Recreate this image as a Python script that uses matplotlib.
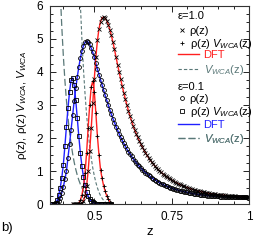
import matplotlib
matplotlib.use('agg')
import matplotlib.pyplot as plt
from matplotlib.lines import Line2D
from matplotlib.ticker import MultipleLocator
import numpy as np

plt.rcParams['font.family'] = 'Liberation Sans'
plt.rcParams['mathtext.fontset'] = 'custom'
plt.rcParams['mathtext.rm'] = 'Liberation Sans'
plt.rcParams['mathtext.it'] = 'Liberation Sans:italic'
plt.rcParams['lines.scale_dashes'] = False

DZ = 0.005

# eps = 1.0 , samples start at z = 0.430
rho_e10 = [0, 0, 0, 0, 0, 0.01, 0.03, 0.1, 0.25, 0.55,
           1.0, 1.6, 2.3, 3.05, 3.8, 4.45, 4.95, 5.3, 5.52, 5.63,
           5.66, 5.62, 5.55, 5.43, 5.28, 5.1, 4.9, 4.68, 4.45, 4.22,
           4.0, 3.78, 3.57, 3.37, 3.18, 3.0, 2.83, 2.67, 2.52, 2.38,
           2.25, 2.13, 2.02, 1.92, 1.82, 1.73, 1.64, 1.56, 1.48, 1.41,
           1.34, 1.28, 1.22, 1.16, 1.11, 1.06, 1.01, 0.97, 0.93, 0.89,
           0.85, 0.82, 0.79, 0.76, 0.73, 0.7, 0.67, 0.65, 0.62, 0.6,
           0.58, 0.56, 0.54, 0.52, 0.5, 0.485, 0.47, 0.455, 0.44, 0.425,
           0.41, 0.4, 0.39, 0.38, 0.37, 0.36, 0.35, 0.34, 0.33, 0.32,
           0.315, 0.31, 0.3, 0.295, 0.29, 0.285, 0.28, 0.275, 0.27, 0.265,
           0.26, 0.255, 0.25, 0.245, 0.24, 0.237, 0.234, 0.231, 0.228, 0.225,
           0.222, 0.22, 0.218, 0.216, 0.215]
rhov_e10 = [0, 0, 0, 0.01, 0.04, 0.12, 0.28, 0.55, 0.94, 1.55,
            2.3, 3.0, 3.55, 3.72, 3.4, 2.75, 2.05, 1.5, 1.05, 0.78,
            0.56, 0.39, 0.26, 0.16, 0.08, 0.03, 0.0]

# eps = 0.1 , samples start at z = 0.360
rho_e01 = [0, 0, 0, 0.01, 0.04, 0.1, 0.2, 0.35, 0.53, 0.75,
           1.0, 1.4, 1.82, 2.25, 2.7, 3.12, 3.5, 3.85, 4.15, 4.42,
           4.63, 4.79, 4.89, 4.93, 4.9, 4.83, 4.72, 4.59, 4.44, 4.26,
           4.08, 3.92, 3.76, 3.6, 3.44, 3.29, 3.14, 2.99, 2.85, 2.72,
           2.59, 2.47, 2.35, 2.24, 2.13, 2.03, 1.93, 1.84, 1.75, 1.67,
           1.59, 1.52, 1.45, 1.38, 1.32, 1.26, 1.2, 1.15, 1.1, 1.05,
           1.0, 0.96, 0.92, 0.88, 0.84, 0.8, 0.77, 0.74, 0.71, 0.68,
           0.65, 0.625, 0.6, 0.58, 0.56, 0.54, 0.52, 0.5, 0.485, 0.47,
           0.455, 0.44, 0.427, 0.414, 0.401, 0.39, 0.379, 0.368, 0.358, 0.348,
           0.338, 0.329, 0.32, 0.312, 0.305, 0.298, 0.291, 0.285, 0.279, 0.273,
           0.267, 0.262, 0.258, 0.254, 0.25, 0.246, 0.242, 0.239, 0.236, 0.233,
           0.23, 0.228, 0.226, 0.224, 0.222, 0.22, 0.218, 0.216, 0.214, 0.213,
           0.212, 0.211, 0.21, 0.209, 0.208, 0.207, 0.206, 0.205, 0.205]
rhov_e01 = [0, 0, 0.01, 0.04, 0.12, 0.27, 0.5, 0.8, 1.2, 1.75,
            2.35, 2.9, 3.4, 3.75, 3.82, 3.6, 3.15, 2.6, 2.05, 1.55,
            1.15, 0.82, 0.57, 0.38, 0.25, 0.16, 0.1, 0.06, 0.035, 0.02,
            0.01, 0.005, 0, 0, 0, 0, 0, 0, 0, 0]

# wall potentials
vwca_e10 = [7.30, 6.04, 4.97, 4.08, 3.34, 2.71, 2.19, 1.76, 1.40, 1.10,
            0.859, 0.659, 0.497, 0.366, 0.262, 0.181, 0.119, 0.072, 0.039, 0.017,
            0.005, 0.0005, 0.0]                      # from z = 0.450
vwca_e01 = [7.70, 6.43, 5.37, 4.49, 3.75, 3.14, 2.62, 2.19, 1.83, 1.53,
            1.27, 1.06, 0.88, 0.73, 0.604, 0.497, 0.408, 0.334, 0.271, 0.219,
            0.176, 0.140, 0.110, 0.086, 0.066, 0.050, 0.037, 0.026, 0.018, 0.012,
            0.007, 0.004, 0.002, 0.0005, 0.0]        # from z = 0.385

xticks = [0.5, 0.75, 1.0]
xticklabels = ['0.5', '0.75', '1']

RED = '#ff2020'
BLUE = '#2020ff'
GRAY = '#5a7878'
SHORT = (2.4, 1.5)
LONG = (5, 2.2)
LFS = 8


def zgrid(z0, vals):
    return z0 + DZ * np.arange(len(vals))


fig = plt.figure(figsize=(2.54, 2.47), dpi=100)
ax = fig.add_axes([50/254, 1 - 204.3/247, 199.3/254, 198.6/247])

ax.plot(zgrid(0.450, vwca_e10), vwca_e10, color=GRAY, lw=0.8, dashes=SHORT)
ax.plot(zgrid(0.385, vwca_e01), vwca_e01, color=GRAY, lw=0.9, dashes=LONG)

ax.plot(zgrid(0.360, rho_e01), rho_e01, color=BLUE, lw=1.0)
ax.plot(zgrid(0.360, rhov_e01), rhov_e01, color=BLUE, lw=1.0)
ax.plot(zgrid(0.430, rho_e10), rho_e10, color=RED, lw=1.0)
ax.plot(zgrid(0.430, rhov_e10), rhov_e10, color=RED, lw=1.0)

mk = dict(ls='none', mec='k', mfc='none', mew=0.6)
ax.plot(zgrid(0.360, rho_e01), rho_e01, marker='o', ms=2.8, **mk)
ax.plot(zgrid(0.360, rhov_e01), rhov_e01, marker='s', ms=2.8, **mk)
ax.plot(zgrid(0.430, rho_e10), rho_e10, marker='x', ms=2.4, **mk)
ax.plot(zgrid(0.430, rhov_e10), rhov_e10, marker='+', ms=3.0, **mk)

ax.set_xlim(0.357, 1.0)
ax.set_ylim(0, 6)
ax.set_xticks(xticks)
ax.set_xticklabels(xticklabels)
ax.xaxis.set_minor_locator(MultipleLocator(0.05))
ax.yaxis.set_major_locator(MultipleLocator(1))
ax.yaxis.set_minor_locator(MultipleLocator(0.25))
ax.tick_params(which='both', direction='in', top=True, right=True,
               labelsize=8.5, width=0.6)
ax.tick_params(which='major', length=4, pad=5)
ax.tick_params(which='minor', length=2)
for s in ax.spines.values():
    s.set_linewidth(0.8)
    s.set_color('#333333')

ax.set_ylabel('ρ(z), ρ(z) $V_{WCA}$, $V_{WCA}$', fontsize=8.2, labelpad=5)
ax.set_xlabel('z', fontsize=9.5, labelpad=2)
fig.text(0.004, 1 - 228/247, 'b)', fontsize=9.5, va='center', ha='left')


# legend: one key per row so the rows sit where the reference has them
def key(handle, label, y, color='k', hl=0.7, pad=0.35):
    leg = ax.legend([handle], [label], labelcolor=color, handlelength=hl,
                    handletextpad=pad, loc='center left', frameon=False,
                    fontsize=LFS, borderpad=0, borderaxespad=0,
                    bbox_to_anchor=(0.642, y))
    ax.add_artist(leg)


LX = 0.642
ax.text(LX, 0.948, 'ε=1.0', transform=ax.transAxes, fontsize=LFS, va='center', ha='left')
key(Line2D([], [], marker='x', ms=2.4, **mk), 'ρ(z)', 0.873)
key(Line2D([], [], marker='+', ms=3.0, **mk), 'ρ(z) $V_{WCA}$(z)', 0.808)
key(Line2D([], [], color=RED, lw=1.0), 'DFT', 0.750, RED, 1.9, 0.4)
key(Line2D([], [], color=GRAY, lw=0.8, dashes=SHORT), '$V_{WCA}$(z)', 0.677, GRAY, 1.9, 0.4)
ax.text(LX, 0.591, 'ε=0.1', transform=ax.transAxes, fontsize=LFS, va='center', ha='left')
key(Line2D([], [], marker='o', ms=2.8, **mk), 'ρ(z)', 0.530)
key(Line2D([], [], marker='s', ms=2.8, **mk), 'ρ(z) $V_{WCA}$(z)', 0.466)
key(Line2D([], [], color=BLUE, lw=1.0), 'DFT', 0.399, BLUE, 1.9, 0.4)
key(Line2D([], [], color=GRAY, lw=0.9, dashes=LONG), '$V_{WCA}$(z)', 0.330, GRAY, 1.9, 0.4)

fig.savefig('out.png', dpi=100)
